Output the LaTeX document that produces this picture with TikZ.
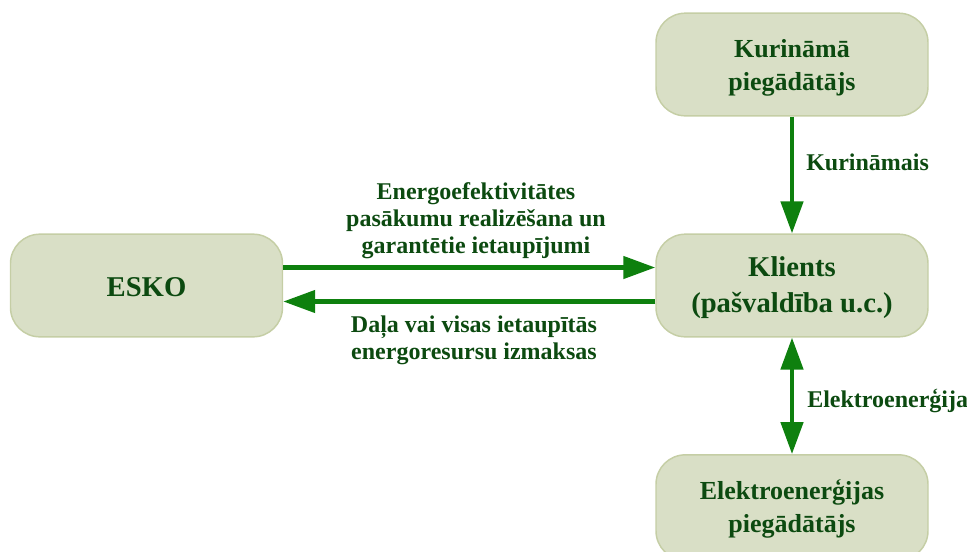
\documentclass[tikz,border=0pt]{standalone}
\usepackage{fontspec}
\setmainfont{Liberation Serif}
\usetikzlibrary{arrows.meta}
\definecolor{boxfill}{HTML}{D9DFC6}
\definecolor{boxdraw}{HTML}{C5CEA5}
\definecolor{txtgreen}{HTML}{0C4A10}
\definecolor{arrgreen}{HTML}{0E800E}
\tikzset{
  box/.style={draw=boxdraw, line width=1.1pt, fill=boxfill, rounded corners=22pt,
    minimum width=204pt, minimum height=77pt, align=center, text=txtgreen,
    font=\bfseries, inner sep=0pt},
  bigtxt/.style={font=\bfseries\fontsize{21.5}{27.5}\selectfont},
  suptxt/.style={font=\bfseries\fontsize{19.5}{24.5}\selectfont},
  lbl/.style={text=txtgreen, align=center, inner sep=0pt, font=\bfseries\fontsize{18}{20.25}\selectfont},
  conn/.style={draw=arrgreen, line width=3.4pt, -{Triangle[length=24pt,width=16.5pt]}},
  dconn/.style={draw=arrgreen, line width=3.4pt, {Triangle[length=24pt,width=16.5pt]}-{Triangle[length=24pt,width=16.5pt]}}
}
\begin{document}
\begin{tikzpicture}[x=0.75pt,y=-0.75pt]
\useasboundingbox (0,0) rectangle (967,551);
\begin{scope}
\clip (0,0) rectangle (967,551);
\node[box, bigtxt] (esko) at (146.5,285.5) {\rule{0pt}{17pt}ESKO};
\node[box, bigtxt] (klients) at (792,285.5) {\rule{0pt}{18pt}Klients\\(pašvaldība u.c.)};
\node[box, suptxt] (kur) at (792,64.5) {\rule{0pt}{19pt}Kurināmā\\piegādātājs};
\node[box, suptxt, minimum height=79pt] (elek) at (792,507.5) {\rule{0pt}{17pt}Elektroenerģijas\\piegādātājs};
\end{scope}
\draw[conn] ([yshift=13.5pt]esko.east) -- ([yshift=13.5pt]klients.west);
\draw[conn] ([yshift=-12pt]klients.west) -- ([yshift=-12pt]esko.east);
\draw[conn] (kur.south) -- (klients.north);
\draw[dconn] (klients.south) -- (elek.north);
\node[lbl] (l1) at (476,221) {Energoefektivitātes\\pasākumu realizēšana un\\garantētie ietaupījumi};
\node[lbl] (l2) at (474,340.5) {Daļa vai visas ietaupītās\\energoresursu izmaksas};
\node[lbl, anchor=base west] (l3) at (806,170) {Kurināmais};
\node[lbl, anchor=base west] (l4) at (807,407) {Elektroenerģija};
\end{tikzpicture}
\end{document}
